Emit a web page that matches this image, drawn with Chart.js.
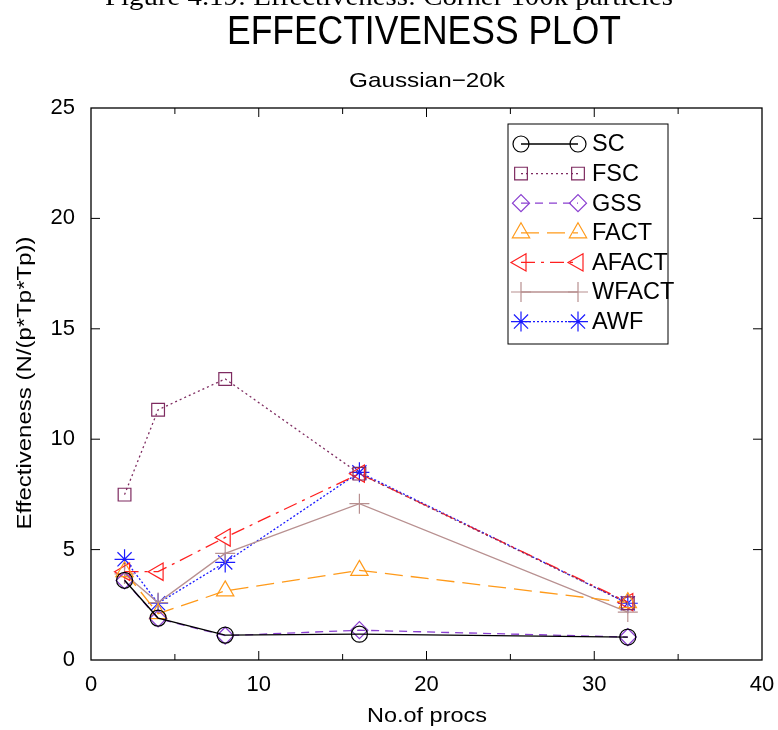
<!DOCTYPE html>
<html>
<head>
<meta charset="utf-8">
<script src="https://cdn.jsdelivr.net/npm/chart.js@4.4.1/dist/chart.umd.min.js"></script>
<style>
  html, body { margin: 0; padding: 0; background: #fff; }
  #wrap { width: 778px; height: 730px; position: relative; }
</style>
</head>
<body>
<div id="wrap"><canvas id="effChart" width="778" height="730"></canvas></div>
<script>
// processor counts (x) and effectiveness per scheme (y)
const procs = [2, 4, 8, 16, 32];
const sc    = [3.61, 1.90, 1.13, 1.17, 1.04];
const fsc   = [7.49, 11.33, 12.73, 8.44, 2.57];
const gss   = [3.60, 1.88, 1.10, 1.35, 1.04];
const fact  = [4.00, 2.10, 3.13, 4.06, 2.60];
const afact = [4.00, 4.00, 5.55, 8.44, 2.62];
const wfact = [3.90, 2.60, 4.83, 7.08, 2.17];
const awf   = [4.56, 2.57, 4.42, 8.50, 2.57];
const xTicks = [0, 10, 20, 30, 40];
const yTicks = [0, 5, 10, 15, 20, 25];

const ctx = document.getElementById("effChart");

function pts(ys) {
    return procs.map((p, i) => ({ x: p, y: ys[i] }));
}

function series(label, ys, color, style, dash, radius, rot) {
    return {
        label: label,
        data: pts(ys),
        borderColor: color,
        backgroundColor: 'transparent',
        borderWidth: 1.3,
        borderDash: dash,
        pointStyle: style,
        pointRadius: radius,
        pointRotation: rot || 0,
        pointBorderColor: color,
        pointBackgroundColor: 'transparent',
        pointBorderWidth: 1.2,
        tension: 0
    };
}

const datasets = [
    series('SC', sc, '#000000', 'circle', [], 8),
    series('FSC', fsc, '#7e2b60', 'rect', [2, 3], 9),
    series('GSS', gss, '#8a3fd0', 'rectRot', [8, 6], 8.5),
    series('FACT', fact, '#ff9a1a', 'triangle', [18, 8], 10),
    series('AFACT', afact, '#ff2020', 'triangle', [14, 6, 3, 6], 10, -90),
    series('WFACT', wfact, '#b89090', 'cross', [], 10),
    series('AWF', awf, '#1a1aff', 'star', [2, 2], 10)
];
datasets[6].pointBackgroundColor = '#1a1aff';

function fitText(c, text, x, y, font, width, align) {
    c.save();
    c.font = font;
    const w = c.measureText(text).width;
    const s = width / w;
    c.translate(x, y);
    c.scale(s, 1);
    c.textAlign = align || 'center';
    c.fillText(text, 0, 0);
    c.restore();
}

function marker(c, ds, x, y) {
    const opts = {
        pointStyle: ds.pointStyle, radius: ds.pointRadius,
        rotation: ds.pointRotation, borderWidth: ds.pointBorderWidth
    };
    c.strokeStyle = ds.pointBorderColor;
    c.fillStyle = ds.pointBackgroundColor;
    c.lineWidth = ds.pointBorderWidth;
    if (Chart.helpers && Chart.helpers.drawPoint) {
        Chart.helpers.drawPoint(c, opts, x, y);
    }
}

const decor = {
    id: 'decor',
    afterDraw(chart) {
        const c = chart.ctx;
        const a = chart.chartArea;
        const xs = chart.scales.x, ys = chart.scales.y;
        c.save();
        c.fillStyle = '#000';
        c.textBaseline = 'alphabetic';
        // cut-off caption and titles
        fitText(c, 'Figure 4.19: Effectiveness: Corner 100k particles', 389, 5, '25px "Liberation Serif"', 568);
        fitText(c, 'EFFECTIVENESS PLOT', 424, 44, '40px "Liberation Sans"', 394);
        fitText(c, 'Gaussian\u221220k', 427, 87, '21px "Liberation Sans"', 156);
        fitText(c, 'No.of procs', 427, 722, '21px "Liberation Sans"', 120);
        c.save();
        c.translate(31, 383);
        c.rotate(-Math.PI / 2);
        fitText(c, 'Effectiveness (N/(p*Tp*Tp))', 0, 0, '21px "Liberation Sans"', 293);
        c.restore();

        // frame
        c.strokeStyle = '#000';
        c.lineWidth = 1.3;
        c.strokeRect(a.left, a.top, a.right - a.left, a.bottom - a.top);
        // inward ticks on all sides
        c.lineWidth = 1;
        c.beginPath();
        for (let v = 5; v < 40; v += 5) {
            const px = xs.getPixelForValue(v);
            const len = v % 10 === 0 ? 9 : 6;
            c.moveTo(px, a.bottom); c.lineTo(px, a.bottom - len);
            c.moveTo(px, a.top); c.lineTo(px, a.top + len);
        }
        for (let v = 5; v < 25; v += 5) {
            const py = ys.getPixelForValue(v);
            c.moveTo(a.left, py); c.lineTo(a.left + 9, py);
            c.moveTo(a.right, py); c.lineTo(a.right - 9, py);
        }
        c.stroke();

        // legend
        const lx = 508, ly = 124, lw = 160, lh = 220;
        c.fillStyle = '#fff';
        c.fillRect(lx, ly, lw, lh);
        c.lineWidth = 1;
        c.strokeStyle = '#000';
        c.strokeRect(lx, ly, lw, lh);
        chart.data.datasets.forEach((ds, i) => {
            const y = 144 + i * 29.6;
            c.save();
            c.strokeStyle = ds.borderColor;
            c.lineWidth = ds.borderWidth;
            c.setLineDash(ds.borderDash);
            c.beginPath();
            c.moveTo(521, y); c.lineTo(578, y);
            c.stroke();
            c.setLineDash([]);
            marker(c, ds, 521, y);
            marker(c, ds, 578, y);
            c.restore();
            c.fillStyle = '#000';
            c.font = '23.5px "Liberation Sans"';
            c.textAlign = 'left';
            c.textBaseline = 'middle';
            c.fillText(ds.label, 592, y + 1);
        });
        c.restore();
    }
};

new Chart(ctx, {
    type: 'line',
    data: { datasets: datasets },
    plugins: [decor],
    options: {
        responsive: false,
        animation: false,
        layout: { padding: { top: 108, right: 16, left: 0, bottom: 0 } },
        plugins: { legend: { display: false }, title: { display: false }, tooltip: { enabled: false } },
        scales: {
            x: {
                type: 'linear', min: 0, max: 40,
                afterBuildTicks(s) { s.ticks = xTicks.map(v => ({ value: v })); },
                afterFit(s) { s.height = 70; s.paddingRight = 0; s.paddingLeft = 0; },
                grid: { display: false, drawTicks: false },
                border: { display: false },
                ticks: { color: '#000', padding: 12, font: { family: 'Liberation Sans', size: 22 } }
            },
            y: {
                type: 'linear', min: 0, max: 25,
                afterBuildTicks(s) { s.ticks = yTicks.map(v => ({ value: v })); },
                afterFit(s) { s.width = 91; },
                grid: { display: false, drawTicks: false },
                border: { display: false },
                ticks: { color: '#000', padding: 16, font: { family: 'Liberation Sans', size: 22 } }
            }
        }
    }
});
</script>
</body>
</html>
